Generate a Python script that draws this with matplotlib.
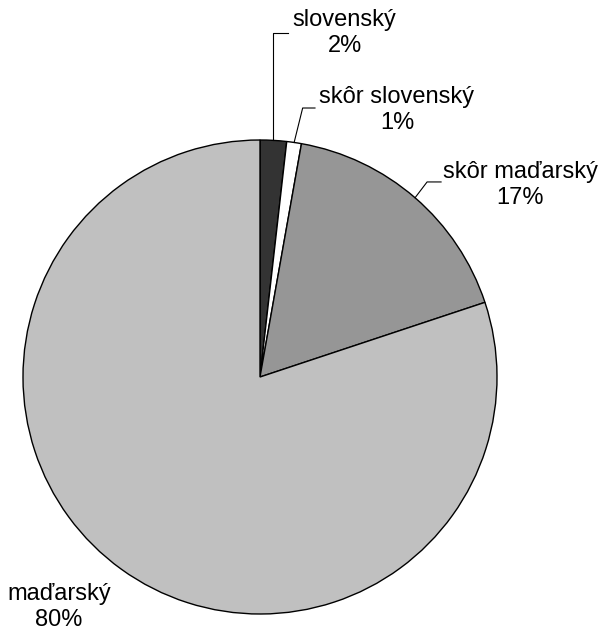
import numpy as np
import matplotlib.pyplot as plt

# data
labels = ['slovenský', 'skôr slovenský', 'skôr maďarský', 'maďarský']
values = [1.8, 1.0, 17.1, 80.1]
colors = ['#333333', '#ffffff', '#969696', '#c0c0c0']

# label text positions (data coords, pie radius = 1) and leader elbow points
text_pos = [(0.357, 1.45), (0.578, 1.127), (1.097, 0.81), (-0.848, -0.97)]
elbows = [(None, 1.45, 0.118), (0.18, 1.135, 0.232), (0.705, 0.823, 0.764), None]

plt.rcParams['font.family'] = ['Liberation Sans', 'DejaVu Sans']

fig = plt.figure(figsize=(6.06, 6.35), dpi=100)
W, H = 606, 635
cx, cy, r = 260, 377, 237
ax = fig.add_axes([(cx - r) / W, (H - cy - r) / H, 2 * r / W, 2 * r / H])

wedges, _ = ax.pie(values, colors=colors, startangle=90, counterclock=False,
                   wedgeprops=dict(edgecolor='black', linewidth=1.0))
ax.set_xlim(-1, 1)
ax.set_ylim(-1, 1)
ax.set_aspect('equal')
ax.axis('off')

total = sum(values)
cum = 0
for i, (lab, v) in enumerate(zip(labels, values)):
    mid = 90 - (cum + v / 2) / total * 360
    cum += v
    ex, ey = np.cos(np.radians(mid)), np.sin(np.radians(mid))
    tx, ty = text_pos[i]
    ax.text(tx, ty, f'{lab}\n{round(v / total * 100)}%', ha='center', va='center',
            fontsize=17, linespacing=1.25, clip_on=False)
    el = elbows[i]
    if el is not None:
        bx = ex if el[0] is None else el[0]
        ax.plot([ex, bx, el[2]], [ey, el[1], el[1]], color='black', lw=0.8,
                clip_on=False)

fig.savefig('out.png', dpi=100)
